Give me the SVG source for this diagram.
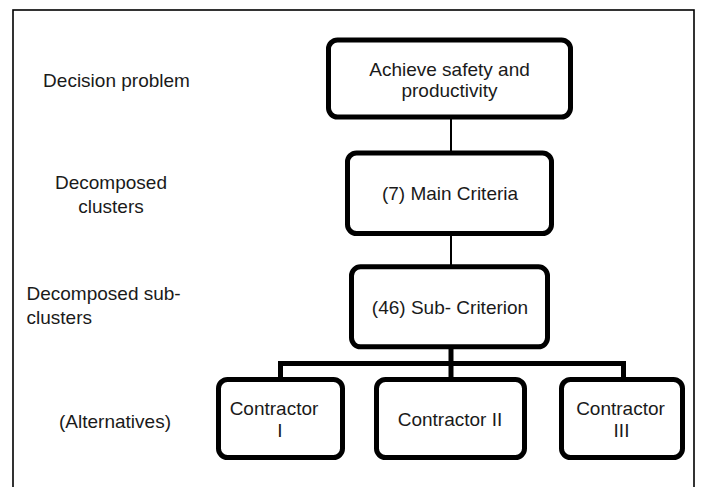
<svg xmlns="http://www.w3.org/2000/svg" width="701" height="487" viewBox="0 0 701 487">
<style>
.node{fill:#fff;stroke:#000;stroke-width:5}
.t{font-family:"Liberation Sans",Arial,sans-serif;font-size:19px;fill:#1a1a1a;text-anchor:middle}
.ts{text-anchor:start}
.thin{stroke:#000;stroke-width:2;fill:none}
.thick{stroke:#000;stroke-width:5;fill:none}
</style>
<rect x="0" y="0" width="701" height="487" fill="#fff"/>
<rect x="13" y="10" width="681" height="490" fill="none" stroke="#000" stroke-width="1.6"/>
<g id="labels">
<text class="t" x="116.5" y="86.5">Decision problem</text>
<text class="t" x="111" y="188.5">Decomposed</text>
<text class="t" x="111" y="212.5">clusters</text>
<text class="t ts" x="26.5" y="300">Decomposed sub-</text>
<text class="t ts" x="26.5" y="324">clusters</text>
<text class="t" x="115" y="428">(Alternatives)</text>
</g>
<g id="connectors">
<line class="thin" x1="451" y1="118" x2="451" y2="152"/>
<line class="thin" x1="451" y1="235" x2="451" y2="265"/>
<line class="thick" x1="451" y1="348" x2="451" y2="364"/>
<polyline class="thick" points="280.5,378 280.5,363.5 623.5,363.5 623.5,378"/>
<line class="thick" x1="451" y1="363" x2="451" y2="378"/>
</g>
<g id="n-goal">
<rect class="node" x="328.5" y="40" width="242" height="77" rx="9"/>
<text class="t" x="449.5" y="75.5">Achieve safety and</text>
<text class="t" x="449.5" y="96.5">productivity</text>
</g>
<g id="n-main">
<rect class="node" x="347.5" y="153" width="204" height="80.5" rx="9"/>
<text class="t" x="450" y="199.5">(7) Main Criteria</text>
</g>
<g id="n-sub">
<rect class="node" x="351.5" y="266.8" width="196" height="80" rx="9"/>
<text class="t" x="450" y="313.5">(46) Sub- Criterion</text>
</g>
<g id="n-c1">
<rect class="node" x="218.5" y="379.5" width="124" height="78" rx="9"/>
<text class="t" x="274" y="414.5">Contractor</text>
<text class="t" x="280" y="436.5">I</text>
</g>
<g id="n-c2">
<rect class="node" x="376.5" y="379.5" width="148" height="78" rx="9"/>
<text class="t" x="450" y="425.5">Contractor II</text>
</g>
<g id="n-c3">
<rect class="node" x="561.5" y="379.5" width="121" height="78" rx="9"/>
<text class="t" x="620.5" y="414.5">Contractor</text>
<text class="t" x="621.5" y="436.5">III</text>
</g>
</svg>
